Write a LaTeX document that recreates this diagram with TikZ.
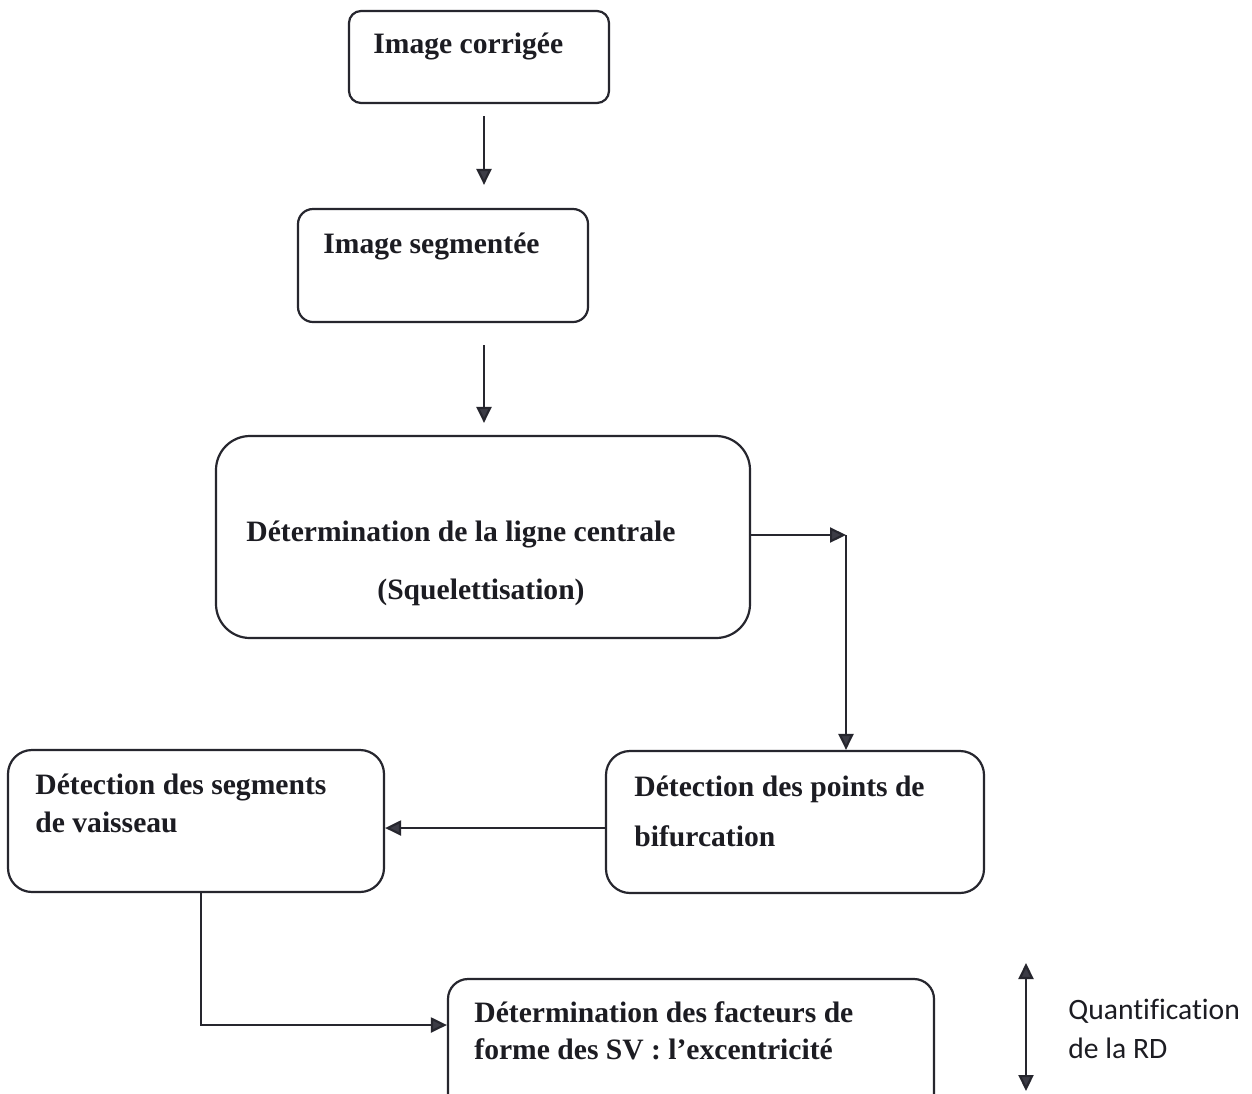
\documentclass[tikz,border=0pt]{standalone}
\usepackage{fontspec}
\setmainfont{Liberation Serif}
\newfontfamily\calibri[Ligatures=NoCommon]{Carlito}
\usetikzlibrary{arrows.meta}
\definecolor{linec}{HTML}{26262E}
\definecolor{tipc}{HTML}{3C3C46}
\definecolor{txt}{HTML}{1C1C22}
\begin{document}
\begin{tikzpicture}[x=0.5pt,y=-0.5pt,
  stepbox/.style={draw=linec, line width=1.1pt, inner sep=0pt, fill=white},
  lbl/.style={anchor=base west, inner sep=0pt, font=\fontsize{14.8}{17}\selectfont\bfseries, text=txt},
  clbl/.style={anchor=base, inner sep=0pt, font=\fontsize{14.8}{17}\selectfont\bfseries, text=txt},
  slbl/.style={anchor=base west, inner sep=0pt, font=\calibri\fontsize{14.8}{17}\selectfont, text=txt},
  arr/.style={draw=linec, line width=1.1pt, -{Triangle[length=8pt,width=7.5pt,fill=tipc]}},
  darr/.style={draw=linec, line width=1.1pt, {Triangle[length=8pt,width=7.5pt,fill=tipc]}-{Triangle[length=8pt,width=7.5pt,fill=tipc]}},
]
\useasboundingbox (0,0) rectangle (1252,1093);
\fill[white] (0,0) rectangle (1252,1093);
\clip (0,0) rectangle (1252,1093);

% process boxes
\node[stepbox, rounded corners=6pt,  minimum width=130pt, minimum height=46pt]   (b1) at (479,57)   {};
\node[stepbox, rounded corners=7.5pt,minimum width=145pt, minimum height=56.5pt] (b2) at (443,265.5) {};
\node[stepbox, rounded corners=17pt, minimum width=267pt, minimum height=101pt]  (b3) at (483,537)  {};
\node[stepbox, rounded corners=12pt, minimum width=189pt, minimum height=71pt]   (b4) at (795,822)  {};
\node[stepbox, rounded corners=12pt, minimum width=188pt, minimum height=71pt]   (b5) at (196,821)  {};
\node[stepbox, rounded corners=10pt, minimum width=243pt, minimum height=68pt]   (b6) at (691,1047) {};

% box labels
\node[lbl] (t1)  at (373,53)  {Image corrigée};
\node[lbl] (t2)  at (323,253) {Image segmentée};
\node[lbl] (t3a) at (246,541) {Détermination de la ligne centrale};
\node[clbl] (t3b) at (481,599) {(Squelettisation)};
\node[lbl] (t4a) at (634,796) {Détection des points de};
\node[lbl] (t4b) at (634,846) {bifurcation};
\node[lbl] (t5a) at (35,794)  {Détection des segments};
\node[lbl] (t5b) at (35,832)  {de vaisseau};
\node[lbl] (t6a) at (474,1022) {Détermination des facteurs de};
\node[lbl] (t6b) at (474,1059) {forme des SV : l’excentricité};
\node[slbl] (q1) at (1068,1019) {Quantification};
\node[slbl] (q2) at (1068,1058) {de la RD};

% routing points
\coordinate (ax)   at (484,0);
\coordinate (kink) at (846,535);
\coordinate (m45)  at (0,828);
\coordinate (elb)  at (201,1025);
\coordinate (qtop) at (1026,963);
\coordinate (qbot) at (1026,1091);

% connectors
\draw[arr, shorten <=6pt, shorten >=11.5pt] (b1.south -| ax) -- (b2.north -| ax);
\draw[arr, shorten <=11pt, shorten >=6pt]  (b2.south -| ax) -- (b3.north -| ax);
\draw[arr] (b3.east |- kink) -- (kink);
\draw[arr] (kink) -- (kink |- b4.north);
\draw[arr] (b4.west |- m45) -- (b5.east |- m45);
\draw[arr] (b5.south -| elb) -- (elb) -- (b6.west |- elb);
\draw[darr] (qtop) -- (qbot);
\end{tikzpicture}
\end{document}
